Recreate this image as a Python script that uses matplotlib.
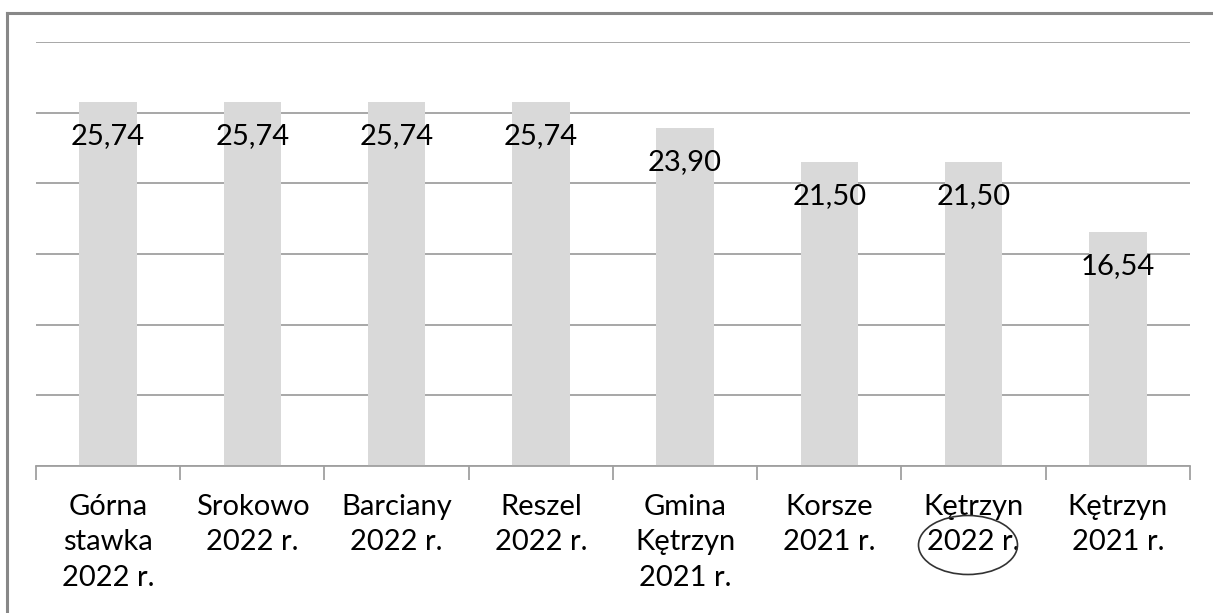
import matplotlib
matplotlib.use("Agg")
import matplotlib.pyplot as plt
from matplotlib.patches import Ellipse
from matplotlib.lines import Line2D

categories = ["Górna\nstawka\n2022 r.", "Srokowo\n2022 r.", "Barciany\n2022 r.", "Reszel\n2022 r.",
              "Gmina\nKętrzyn\n2021 r.", "Korsze\n2021 r.", "Kętrzyn\n2022 r.", "Kętrzyn\n2021 r."]
values = [25.74, 25.74, 25.74, 25.74, 23.90, 21.50, 21.50, 16.54]
value_labels = ["25,74", "25,74", "25,74", "25,74", "23,90", "21,50", "21,50", "16,54"]

W, H = 1213, 613
fig = plt.figure(figsize=(W / 100, H / 100), dpi=100)
plt.rcParams['font.family'] = ['Lato', 'DejaVu Sans']

ax = fig.add_axes([36 / W, 1 - 466 / H, (1190 - 36) / W, (466 - 42) / H])
x = list(range(len(categories)))
ax.bar(x, values, width=0.4, color="#D9D9D9", zorder=2)
ax.set_xlim(-0.5, len(categories) - 0.5)
ax.set_ylim(0, 30)
ax.set_yticks([0, 5, 10, 15, 20, 25, 30])
ax.yaxis.grid(True, color="#A0A0A0", lw=1.3, zorder=0)
ax.tick_params(axis='y', length=0, labelleft=False)
for s in ["left", "right", "top"]:
    ax.spines[s].set_visible(False)
ax.spines["bottom"].set_color("#A0A0A0")
ax.spines["bottom"].set_linewidth(1.3)
ax.spines["bottom"].set_zorder(3)

ax.set_xticks([i + 0.5 for i in range(-1, len(categories))], minor=False)
ax.set_xticklabels([])
ax.tick_params(axis='x', which='major', length=10, color="#A0A0A0", width=1.3)
ax.set_xticks(x, minor=True)
ax.set_xticklabels(categories, minor=True, fontsize=21, linespacing=1.45)
ax.tick_params(axis='x', which='minor', length=0, pad=20)

for xi, v, lab in zip(x, values, value_labels):
    ax.annotate(lab, (xi, v), xytext=(0, -34), textcoords='offset pixels',
                ha='center', va='center', fontsize=21, color='black', zorder=4)

# highlight ellipse
fig.patches.append(Ellipse((968 / W, 1 - 545 / H), 99 / W, 59 / H, transform=fig.transFigure,
                           fill=False, edgecolor="#333333", lw=1.2))

# frame (top and left edges)
fig.lines.append(Line2D([7 / W, 1], [1 - 13 / H, 1 - 13 / H], transform=fig.transFigure,
                        color="#888888", lw=2.2))
fig.lines.append(Line2D([7 / W, 7 / W], [0, 1 - 13 / H], transform=fig.transFigure,
                        color="#888888", lw=2.2))

fig.savefig("out.png", dpi=100)
